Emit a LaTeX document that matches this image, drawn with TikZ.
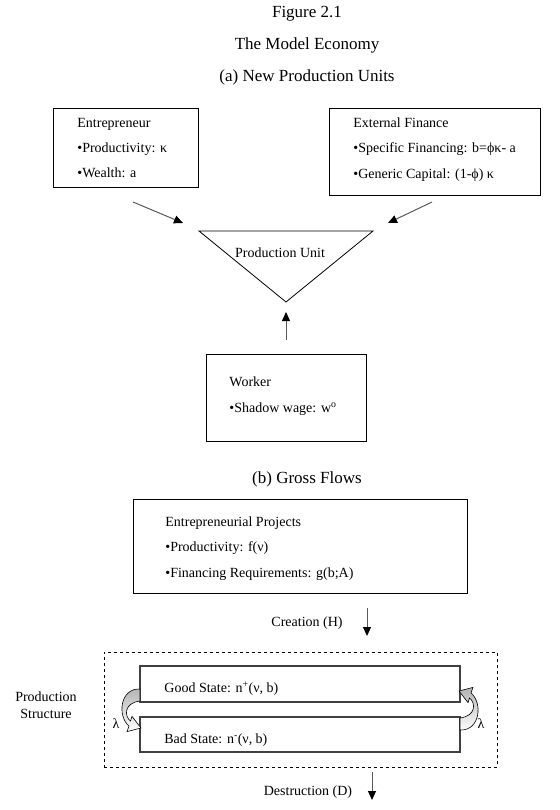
\documentclass[tikz,border=0pt]{standalone}
\usepackage{fontspec}
\setmainfont{Liberation Serif}
\usetikzlibrary{arrows.meta,positioning}

\begin{document}
\begin{tikzpicture}[x=1pt, y=-1pt, line width=0.8pt,
  main box/.style={draw, inner sep=0pt},
  line/.style={anchor=base west, inner sep=0pt, font=\fontsize{14}{16}\selectfont},
  title/.style={anchor=base, inner sep=0pt, font=\fontsize{17}{19}\selectfont},
  flow/.style={draw=black!65, line width=1pt, -{Triangle[length=9pt,width=8pt,black]}},
  loop band/.style={top color=gray!60, bottom color=white, draw=black, line width=0.6pt}]
\useasboundingbox (0,0) rectangle (559,810);

% titles
\node [title] (fig) at (307,18) {Figure 2.1};
\node [title] (econ) at (307,50) {The Model Economy};
\node [title] (secA) at (307,82) {(a) New Production Units};

% (a) new production units
\node [main box, minimum width=145, minimum height=79] (ent) at (125.5,147.5) {};
\node [line] (ent1) at (77,127.5) {Entrepreneur};
\node [line] (ent2) at (77,152.5) {•Productivity: κ};
\node [line] (ent3) at (77,177.5) {•Wealth: a};

\node [main box, minimum width=211, minimum height=87] (fin) at (434.5,151.5) {};
\node [line] (fin1) at (353,127.5) {External Finance};
\node [line] (fin2) at (353,152.5) {•Specific Financing: b=ϕκ- a};
\node [line] (fin3) at (353,178.5) {•Generic Capital: (1-ϕ) κ};

\coordinate (tl) at (199,231);
\coordinate (tr) at (373,231);
\coordinate (tb) at (286,302);
\draw (tl) -- (tr) -- (tb) -- cycle;
\node [line, anchor=base] (unit) at (280,257.5) {Production Unit};

\node [main box, minimum width=160, minimum height=87] (work) at (286,397.5) {};
\node [line] (work1) at (229,386.5) {Worker};
\node [line] (work2) at (229,412.5) {•Shadow wage: w\textsuperscript{o}};

\coordinate (e1) at (133,202);
\coordinate (e2) at (183,223);
\coordinate (f1) at (432,202);
\coordinate (f2) at (388,223);
\coordinate (w1) at (286,340);
\coordinate (w2) at (286,312);
\draw [flow] (e1) -- (e2);
\draw [flow] (f1) -- (f2);
\draw [flow] (w1) -- (w2);

% (b) gross flows
\node [title] (secB) at (307,483) {(b) Gross Flows};

\node [main box, minimum width=334, minimum height=94] (proj) at (300,546) {};
\node [line] (proj1) at (165,526.5) {Entrepreneurial Projects};
\node [line] (proj2) at (165,551.5) {•Productivity: f(ν)};
\node [line] (proj3) at (165,577.5) {•Financing Requirements: g(b;A)};

\node [line, anchor=base] (crea) at (307,626.5) {Creation (H)};
\coordinate (c1) at (367,608);
\coordinate (c2) at (367,636);
\draw [flow] (c1) -- (c2);

\node [main box, dashed, minimum width=393, minimum height=115] (struct) at (300.5,709.5) {};
\node [main box, draw=black!75, line width=1.2pt, minimum width=320, minimum height=36] (good) at (300,684) {};
\node [main box, draw=black!75, line width=1.2pt, minimum width=320, minimum height=35] (bad) at (300,734.5) {};
\node [line] (good1) at (164,692.5) {Good State: n\textsuperscript{+}(ν, b)};
\node [line] (bad1) at (164,743.5) {Bad State: n\textsuperscript{-}(ν, b)};

\node [line, anchor=center, align=center, font=\fontsize{14}{16.5}\selectfont] (prod) at (46,705) {Production\\Structure};

\shade [loop band] (140,689) .. controls (120,688) and (117,716) .. (129,726) -- (127,731.6) -- (141,728) -- (132,716.4) -- (130.5,721) .. controls (124,716) and (124,703) .. (140,701) -- cycle;
\begin{scope}[rotate around={180:(300,709.5)}]
\shade [loop band] (140,689) .. controls (120,688) and (117,716) .. (129,726) -- (127,731.6) -- (141,728) -- (132,716.4) -- (130.5,721) .. controls (124,716) and (124,703) .. (140,701) -- cycle;
\end{scope}
\node [line, anchor=center] (lamL) at (116,724) {λ};
\node [line, anchor=center] (lamR) at (481,724) {λ};

\node [line, anchor=base] (dest) at (308,795) {Destruction (D)};
\coordinate (d1) at (372,772);
\coordinate (d2) at (372,800);
\draw [flow] (d1) -- (d2);
\end{tikzpicture}
\end{document}
